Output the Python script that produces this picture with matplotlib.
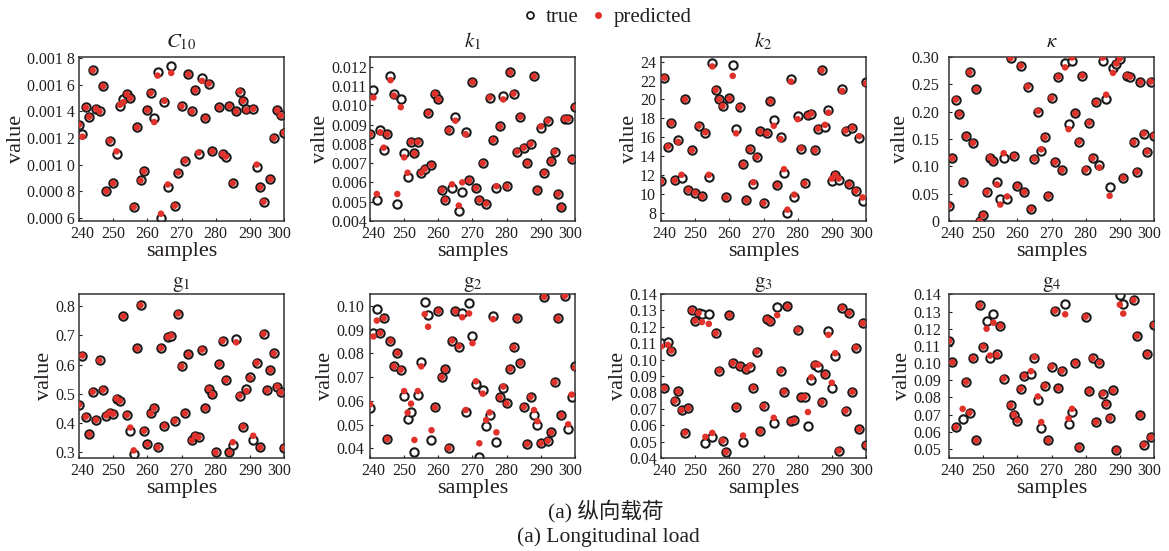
import numpy as np
import matplotlib
matplotlib.use("Agg")
import matplotlib.pyplot as plt
from matplotlib.lines import Line2D
from matplotlib.ticker import FixedLocator, FixedFormatter
from matplotlib.transforms import ScaledTranslation

plt.rcParams['font.family'] = ['Liberation Serif', 'Noto Sans CJK SC', 'DejaVu Sans']
plt.rcParams['mathtext.fontset'] = 'stix'

nan = np.nan
samples = list(range(240, 301))

# ---------------- data ----------------
c10_true = [0.00130, 0.00123, 0.00143, 0.00136, 0.00171, 0.00142, 0.00140, 0.00159, 0.00080, 0.00118,
            0.00086, 0.00108, 0.00144, 0.00149, 0.00153, 0.00150, 0.00068, 0.00128, 0.00088, 0.00095,
            0.00141, 0.00154, 0.00135, 0.00170, 0.00060, 0.00147, 0.00083, 0.00174, 0.00069, 0.00094,
            0.00144, 0.00103, 0.00168, 0.00140, 0.00156, 0.00108, 0.00165, 0.00135, 0.00161, 0.00110,
            nan, 0.00143, 0.00108, 0.00106, 0.00144, 0.00086, 0.00140, 0.00155, 0.00148, 0.00142,
            nan, 0.00142, 0.00098, 0.00083, 0.00072, nan, 0.00089, 0.00120, 0.00141, 0.00137,
            0.00124]
c10_pred = [0.00130, 0.00121, 0.00143, 0.00136, 0.00171, 0.00142, 0.00140, 0.00159, 0.00080, 0.00118,
            0.00086, 0.00110, 0.00145, 0.00147, 0.00153, 0.00150, 0.00068, 0.00128, 0.00088, 0.00095,
            0.00141, 0.00154, 0.00132, 0.00167, 0.00063, 0.00148, 0.00085, 0.00169, 0.00069, 0.00094,
            0.00144, 0.00103, 0.00168, 0.00140, 0.00156, 0.00109, 0.00163, 0.00135, 0.00161, 0.00110,
            nan, 0.00143, 0.00108, 0.00106, 0.00144, 0.00086, 0.00140, 0.00155, 0.00148, 0.00141,
            nan, 0.00142, 0.00100, 0.00083, 0.00072, nan, 0.00089, 0.00120, 0.00141, 0.00137,
            0.00124]

k1_true = [0.0085, 0.0108, 0.0051, 0.0087, 0.0077, 0.0085, 0.0115, 0.0106, 0.0049, 0.0103,
           0.0075, 0.0063, 0.0081, 0.0075, 0.0081, 0.0065, 0.0067, 0.0096, 0.0069, 0.0106,
           0.0103, 0.0056, 0.0051, 0.0087, 0.0057, 0.0094, 0.0045, 0.0055, 0.0086, 0.0061,
           0.0112, 0.0057, 0.0051, 0.0070, 0.0049, 0.0104, 0.0082, 0.0057, 0.0089, 0.0105,
           0.0058, 0.0117, 0.0106, 0.0076, 0.0094, 0.0078, 0.0070, 0.0080, 0.0115, 0.0056,
           0.0088, 0.0065, 0.0092, 0.0071, 0.0076, 0.0054, 0.0047, 0.0093, 0.0093, 0.0072,
           0.0099]
k1_pred = [0.0085, 0.0104, 0.0054, 0.0086, 0.0078, 0.0085, 0.0113, 0.0105, 0.0054, 0.0099,
           0.0073, 0.0065, 0.0081, 0.0075, 0.0081, 0.0065, 0.0067, 0.0096, 0.0069, 0.0106,
           0.0103, 0.0056, 0.0051, 0.0087, 0.0059, 0.0092, 0.0048, 0.0060, 0.0085, 0.0061,
           0.0112, 0.0057, 0.0051, 0.0070, 0.0049, 0.0104, 0.0082, 0.0058, 0.0089, 0.0103,
           0.0058, 0.0117, 0.0106, 0.0076, 0.0094, 0.0078, 0.0070, 0.0080, 0.0115, 0.0056,
           0.0089, 0.0065, 0.0092, 0.0071, 0.0076, 0.0054, 0.0047, 0.0093, 0.0093, 0.0072,
           0.0099]

k2_true = [11.3, 22.3, 15.0, 17.5, 11.4, 15.7, 11.7, 20.0, 10.4, 14.6,
           10.1, 17.2, 9.7, 16.4, 11.8, 23.9, 21.0, 20.0, 19.3, 9.6,
           20.1, 23.7, 16.9, 19.2, 13.1, 9.3, 14.7, 11.0, 13.9, 16.6,
           9.0, 16.4, 19.8, 17.8, 10.9, 16.0, 12.2, 8.0, 22.2, 9.6,
           18.2, 14.7, 11.1, 18.3, 18.5, 14.6, 16.9, 23.1, 17.1, 18.9,
           11.3, 12.0, 11.5, 21.1, 16.6, 11.0, 17.0, 10.3, 15.9, 9.2,
           21.9]
k2_pred = [11.3, 22.3, 15.0, 17.5, 11.4, 15.5, 12.0, 20.0, 10.4, 14.6,
           10.1, 17.2, 9.7, 16.5, 12.0, 23.5, 21.0, 20.0, 19.3, 9.6,
           20.1, 22.5, 16.4, 19.2, 13.1, 9.3, 14.7, 11.2, 13.9, 16.6,
           9.0, 16.4, 19.8, 17.2, 10.9, 15.8, 12.6, 8.3, 21.9, 9.9,
           17.9, 14.8, 11.1, 18.3, 18.5, 14.6, 16.9, 23.1, 17.3, 18.6,
           11.6, 12.0, 11.6, 20.9, 16.7, 11.0, 17.0, 10.3, 16.1, 9.6,
           21.7]

kappa_true = [0.028, 0.115, 0.222, 0.196, 0.071, 0.155, 0.272, 0.143, 0.241, 0.000,
              0.011, 0.053, 0.116, 0.109, 0.071, 0.040, 0.116, 0.041, 0.298, 0.119,
              0.064, 0.284, 0.053, 0.246, 0.022, 0.114, 0.200, 0.128, 0.153, 0.046,
              0.225, 0.108, 0.264, 0.093, 0.289, 0.177, 0.292, 0.197, 0.145, 0.266,
              0.094, 0.180, 0.115, 0.217, 0.103, 0.292, 0.224, 0.063, 0.279, 0.287,
              0.296, 0.079, 0.266, 0.264, 0.144, 0.090, 0.254, 0.160, 0.127, 0.254,
              0.156]
kappa_pred = [0.028, 0.115, 0.222, 0.196, 0.071, 0.155, 0.272, 0.143, 0.241, 0.000,
              0.011, 0.053, 0.116, 0.109, 0.067, 0.030, 0.124, 0.045, 0.298, 0.119,
              0.064, 0.284, 0.053, 0.246, 0.022, 0.114, 0.201, 0.131, 0.153, 0.046,
              0.225, 0.108, 0.264, 0.093, 0.281, 0.168, 0.299, 0.197, 0.145, 0.266,
              0.094, 0.180, 0.115, 0.217, 0.098, 0.299, 0.231, 0.046, 0.271, 0.288,
              0.297, 0.079, 0.266, 0.264, 0.144, 0.090, 0.254, 0.160, 0.127, 0.255,
              0.156]

g1_true = [0.463, 0.631, 0.422, 0.362, 0.507, 0.411, 0.614, 0.514, 0.426, 0.436,
           0.432, 0.484, 0.476, 0.765, 0.428, 0.374, 0.295, 0.655, 0.803, 0.374,
           0.328, 0.433, 0.452, 0.318, 0.657, 0.391, 0.694, 0.699, 0.408, 0.774,
           0.594, 0.434, 0.635, 0.341, 0.357, 0.352, 0.651, 0.451, 0.517, 0.498,
           0.300, 0.602, 0.681, 0.547, 0.300, 0.327, 0.687, 0.494, 0.388, 0.518,
           0.558, 0.342, 0.606, 0.317, 0.705, 0.512, 0.581, 0.638, 0.525, 0.505,
           0.315]
g1_pred = [0.463, 0.631, 0.422, 0.362, 0.507, 0.411, 0.614, 0.514, 0.426, 0.436,
           0.432, 0.484, 0.476, 0.765, 0.428, 0.385, 0.307, 0.655, 0.803, 0.374,
           0.328, 0.433, 0.452, 0.318, 0.657, 0.391, 0.694, 0.699, 0.408, 0.774,
           0.594, 0.434, 0.635, 0.341, 0.357, 0.352, 0.651, 0.451, 0.517, 0.498,
           0.300, 0.602, 0.681, 0.547, 0.300, 0.335, 0.676, 0.494, 0.388, 0.510,
           0.554, 0.357, 0.606, 0.317, 0.705, 0.512, 0.581, 0.638, 0.525, 0.505,
           0.315]

g2_true = [0.0570, 0.0885, 0.0987, 0.0886, 0.0948, 0.0439, 0.0853, 0.0745, 0.0802, 0.0731,
           0.0619, 0.0525, 0.0554, 0.0383, 0.0624, 0.0765, 0.1015, 0.0962, 0.0434, 0.0572,
           0.0979, 0.0700, 0.0732, 0.0401, 0.0854, 0.0978, 0.0825, 0.0972, 0.0551, 0.1010,
           0.0872, 0.0671, 0.0364, 0.0647, 0.0494, 0.0540, 0.0959, 0.0428, 0.0614, 0.0655,
           0.0589, 0.0735, 0.0825, 0.0948, 0.0760, 0.0574, 0.0418, 0.0617, 0.0540, 0.0497,
           0.0421, 0.1038, 0.0431, 0.0467, 0.0678, 0.0947, 0.0539, 0.1042, 0.0483, 0.0614,
           0.0746]
g2_pred = [0.0585, 0.0871, 0.0938, 0.0886, 0.0948, 0.0439, 0.0853, 0.0745, 0.0802, 0.0731,
           0.0641, 0.0550, 0.0588, 0.0435, 0.0641, 0.0745, 0.0965, 0.0912, 0.0476, 0.0572,
           0.0979, 0.0700, 0.0732, 0.0401, 0.0854, 0.0978, 0.0830, 0.0952, 0.0561, 0.0968,
           0.0843, 0.0682, 0.0421, 0.0630, 0.0519, 0.0551, 0.0944, 0.0467, 0.0614, 0.0660,
           0.0589, 0.0735, 0.0825, 0.0948, 0.0760, 0.0574, 0.0418, 0.0617, 0.0561, 0.0514,
           0.0421, 0.1038, 0.0431, 0.0467, 0.0678, 0.0947, 0.0539, 0.1042, 0.0501, 0.0626,
           0.0740]

g3_true = [0.1100, 0.0827, 0.1110, 0.1055, 0.0749, 0.0806, 0.0692, 0.0555, 0.0704, 0.1300,
           0.1237, 0.1284, 0.1280, 0.0490, 0.1280, 0.0529, 0.1161, 0.0933, 0.0506, 0.0437,
           0.1271, 0.0980, 0.0712, 0.0961, 0.0498, 0.0941, 0.0953, 0.0829, 0.1049, 0.0563,
           0.0716, 0.1247, 0.1233, 0.0612, 0.1320, 0.0933, 0.0804, 0.1324, 0.0624, 0.0631,
           0.1182, 0.0769, 0.0773, 0.0594, 0.0873, 0.0969, 0.0953, 0.0741, 0.0910, 0.1176,
           0.0829, 0.1022, 0.0445, 0.1316, 0.0688, 0.1284, 0.0804, 0.1073, 0.0576, 0.1222,
           0.0478]
g3_pred = [0.1080, 0.0827, 0.1090, 0.1055, 0.0749, 0.0806, 0.0692, 0.0555, 0.0704, 0.1300,
           0.1237, 0.1284, 0.1229, 0.0529, 0.1218, 0.0553, 0.1161, 0.0933, 0.0506, 0.0437,
           0.1271, 0.0980, 0.0712, 0.0961, 0.0537, 0.0941, 0.0963, 0.0829, 0.1049, 0.0563,
           0.0716, 0.1247, 0.1233, 0.0645, 0.1271, 0.0933, 0.0804, 0.1324, 0.0624, 0.0631,
           0.1182, 0.0769, 0.0773, 0.0680, 0.0892, 0.0969, 0.0970, 0.0741, 0.0910, 0.1151,
           0.0859, 0.1039, 0.0445, 0.1316, 0.0688, 0.1284, 0.0804, 0.1073, 0.0576, 0.1222,
           0.0478]

g4_true = [0.1129, 0.1005, 0.0628, nan, 0.0674, 0.0891, 0.0711, 0.1028, 0.0550, 0.1336,
           0.1096, 0.1247, 0.1030, 0.1286, 0.1053, 0.1216, 0.0910, nan, 0.0755, 0.0701,
           0.0666, 0.0850, 0.0926, nan, 0.0939, 0.1030, 0.0784, 0.0624, 0.0868, 0.0550,
           0.0980, 0.1305, 0.0854, 0.0955, 0.1342, 0.0643, 0.0713, 0.1001, 0.0510, nan,
           0.1270, 0.0837, 0.1028, 0.0657, 0.1003, 0.0823, 0.0763, 0.0680, 0.0841, 0.0494,
           0.1396, 0.1344, nan, nan, 0.1367, 0.1158, 0.0697, 0.0525, 0.1052, 0.0568,
           0.1222]
g4_pred = [0.1129, 0.1005, 0.0628, nan, 0.0734, 0.0891, 0.0711, 0.1028, 0.0550, 0.1336,
           0.1096, 0.1200, 0.1044, 0.1235, 0.1048, 0.1216, 0.0910, nan, 0.0755, 0.0701,
           0.0666, 0.0850, 0.0926, nan, 0.0953, 0.1035, 0.0806, 0.0657, 0.0868, 0.0550,
           0.0980, 0.1305, 0.0854, 0.0955, 0.1284, 0.0678, 0.0734, 0.1001, 0.0510, nan,
           0.1270, 0.0837, 0.1028, 0.0657, 0.1003, 0.0823, 0.0763, 0.0680, 0.0841, 0.0494,
           0.1340, 0.1288, nan, nan, 0.1367, 0.1158, 0.0697, 0.0525, 0.1052, 0.0568,
           0.1222]

titles = [r'$C_{10}$', r'$k_1$', r'$k_2$', r'$\kappa$',
          r'$\mathrm{g}_1$', r'$\mathrm{g}_2$', r'$\mathrm{g}_3$', r'$\mathrm{g}_4$']
true_series = [c10_true, k1_true, k2_true, kappa_true, g1_true, g2_true, g3_true, g4_true]
pred_series = [c10_pred, k1_pred, k2_pred, kappa_pred, g1_pred, g2_pred, g3_pred, g4_pred]

ytick_vals = [
    [0.0006, 0.0008, 0.0010, 0.0012, 0.0014, 0.0016, 0.0018],
    [0.004, 0.005, 0.006, 0.007, 0.008, 0.009, 0.010, 0.011, 0.012],
    [8, 10, 12, 14, 16, 18, 20, 22, 24],
    [0, 0.05, 0.10, 0.15, 0.20, 0.25, 0.30],
    [0.3, 0.4, 0.5, 0.6, 0.7, 0.8],
    [0.04, 0.05, 0.06, 0.07, 0.08, 0.09, 0.10],
    [0.04, 0.05, 0.06, 0.07, 0.08, 0.09, 0.10, 0.11, 0.12, 0.13, 0.14],
    [0.05, 0.06, 0.07, 0.08, 0.09, 0.10, 0.11, 0.12, 0.13, 0.14],
]
ytick_labels = [
    ['0.000 6', '0.000 8', '0.001 0', '0.001 2', '0.001 4', '0.001 6', '0.001 8'],
    ['0.004', '0.005', '0.006', '0.007', '0.008', '0.009', '0.010', '0.011', '0.012'],
    ['8', '10', '12', '14', '16', '18', '20', '22', '24'],
    ['0', '0.05', '0.10', '0.15', '0.20', '0.25', '0.30'],
    ['0.3', '0.4', '0.5', '0.6', '0.7', '0.8'],
    ['0.04', '0.05', '0.06', '0.07', '0.08', '0.09', '0.10'],
    ['0.04', '0.05', '0.06', '0.07', '0.08', '0.09', '0.10', '0.11', '0.12', '0.13', '0.14'],
    ['0.05', '0.06', '0.07', '0.08', '0.09', '0.10', '0.11', '0.12', '0.13', '0.14'],
]
ylims = [(0.000575, 0.00181), (0.004, 0.0125), (7.1, 24.5), (0.0, 0.30),
         (0.281, 0.841), (0.0359, 0.105), (0.04, 0.14), (0.0448, 0.1402)]
xticks = [240, 250, 260, 270, 280, 290, 300]

# ---------------- layout ----------------
W, H = 1169, 551
fig = plt.figure(figsize=(W / 100, H / 100), dpi=100)
lefts = [79, 370, 661, 949]
width_px = 205
rows = [(57, 221), (294, 458)]
title_pads = [7, 3]
ypads = [3, 2.2, 3.6, 7.0, 3, 4.3, 3, 5.8]

TXT = '#231f20'
RED = '#e0312b'

for i in range(8):
    r, c = divmod(i, 4)
    top, bot = rows[r]
    ax = fig.add_axes([lefts[c] / W, 1 - bot / H, width_px / W, (bot - top) / H])
    ax.scatter(samples, true_series[i], s=36, facecolors='white', edgecolors='#1a1a1a',
               linewidths=1.5, zorder=2)
    ax.scatter(samples, pred_series[i], s=22, facecolors=RED, edgecolors='none', zorder=3)
    ax.set_xlim(240, 300)
    ax.set_ylim(*ylims[i])
    ax.set_xticks(xticks)
    ax.yaxis.set_major_locator(FixedLocator(ytick_vals[i]))
    ax.yaxis.set_major_formatter(FixedFormatter(ytick_labels[i]))
    ax.tick_params(direction='in', length=2.5, width=0.8, labelsize=11.5, colors=TXT)
    ax.tick_params(axis='x', pad=3.5)
    ax.tick_params(axis='y', pad=ypads[i])
    xl = ax.get_xticklabels()
    xl[0].set_transform(xl[0].get_transform() + ScaledTranslation(3 / 100, 0, fig.dpi_scale_trans))
    xl[-1].set_transform(xl[-1].get_transform() + ScaledTranslation(-5 / 100, 0, fig.dpi_scale_trans))
    for sp in ax.spines.values():
        sp.set_linewidth(1.1)
        sp.set_color('#333333')
    ax.set_title(titles[i], fontsize=15, color=TXT, pad=title_pads[r])
    ax.set_xlabel('samples', fontsize=16, color=TXT, labelpad=0)
    ax.set_ylabel('value', fontsize=16, color=TXT, labelpad=1)

handles = [
    Line2D([], [], linestyle='none', marker='o', markersize=5, markerfacecolor='white',
           markeredgecolor='#1a1a1a', markeredgewidth=1.3, label='true'),
    Line2D([], [], linestyle='none', marker='o', markersize=5, markerfacecolor=RED,
           markeredgecolor='none', label='predicted'),
]
fig.legend(handles=handles, loc='center', bbox_to_anchor=(0.518, 0.969), ncol=2,
           frameon=False, fontsize=15, handlelength=1.0, handletextpad=0.25,
           columnspacing=0.45, borderpad=0.2, labelcolor=TXT)

fig.text(0.518, 1 - 511 / H, '(a) 纵向载荷', ha='center', va='center', fontsize=15.5,
         color=TXT, family=['Liberation Serif', 'Noto Sans CJK SC'])
fig.text(0.52, 1 - 537 / H, '(a) Longitudinal load', ha='center', va='center',
         fontsize=15.5, color=TXT)

fig.savefig('out.png', dpi=100)
